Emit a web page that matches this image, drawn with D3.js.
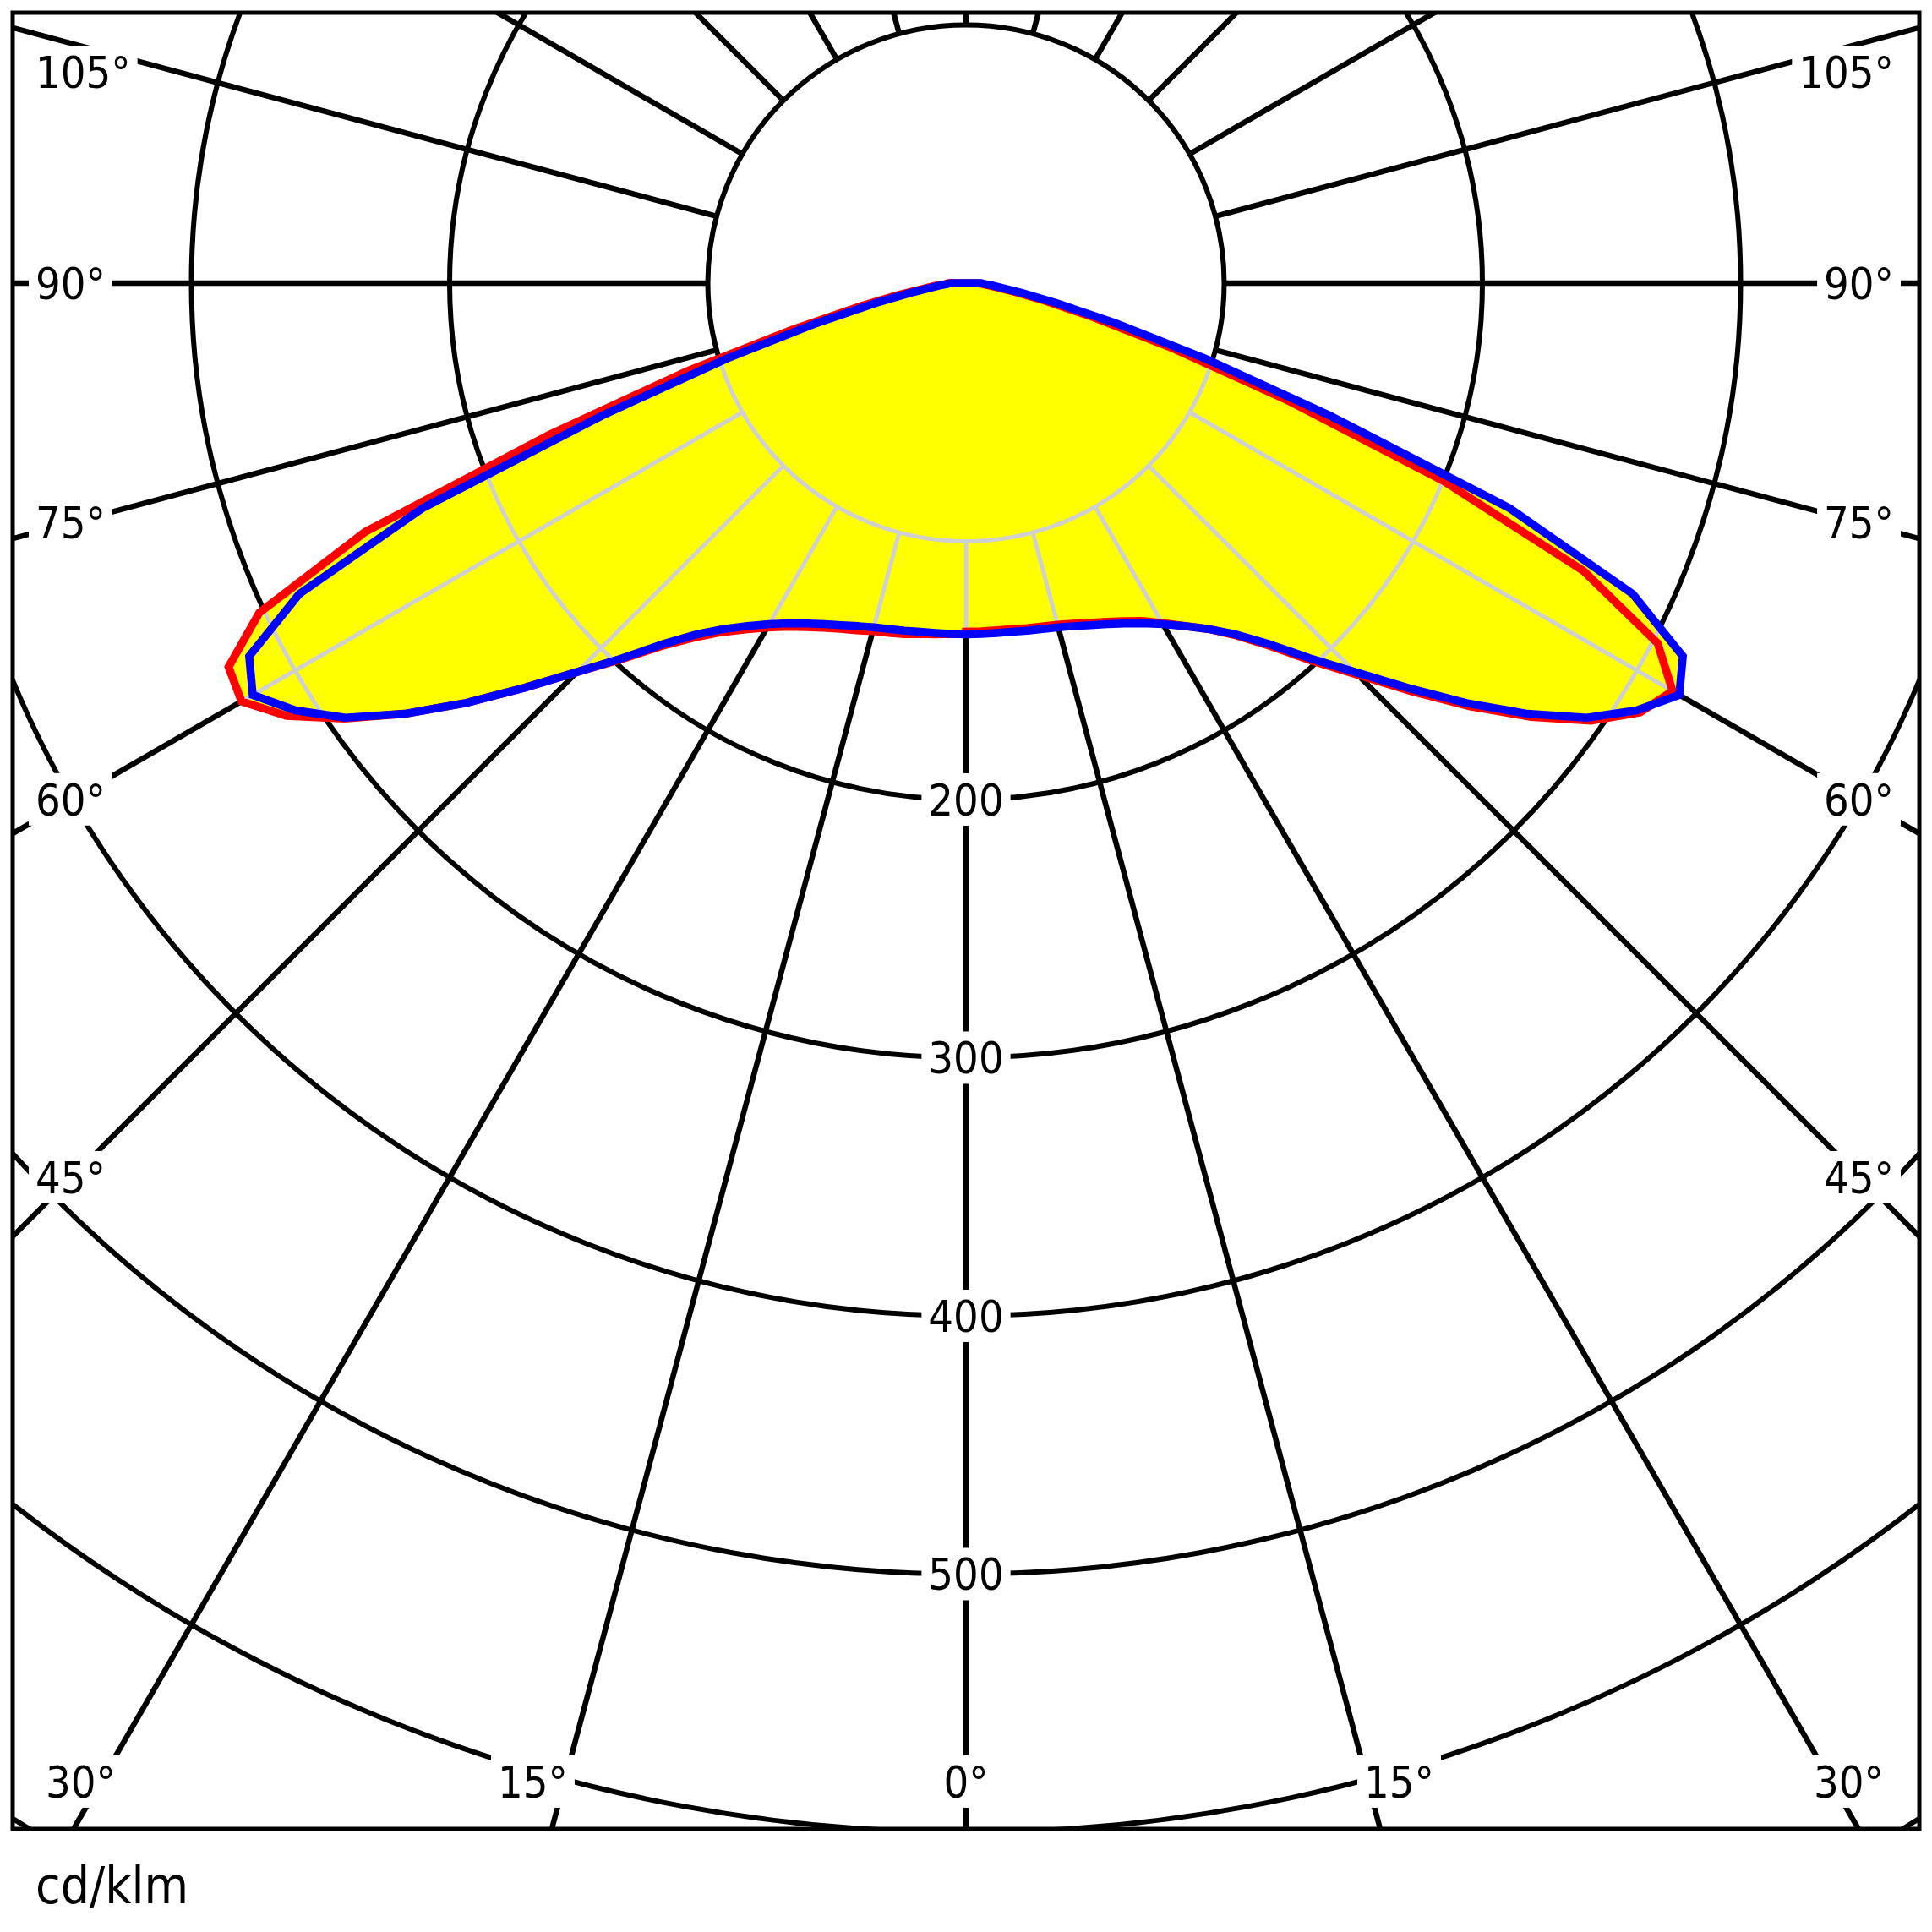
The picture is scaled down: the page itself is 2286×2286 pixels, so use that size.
<!DOCTYPE html>
<html><head><meta charset="utf-8">
<script src="https://cdn.jsdelivr.net/npm/d3@7"></script>
<style>
body{margin:0;background:#fff}
text{font-family:"DejaVu Sans Condensed","DejaVu Sans",sans-serif;font-stretch:condensed;fill:#000}
</style>
</head><body>
<svg id="c" width="2286" height="2286"></svg>
<script>
// ---------- data ----------
const gammaAngles = [0,2.5,5,7.5,10,12.5,15,17.5,20,22.5,25,27.5,30,32.5,35,37.5,40,42.5,45,47.5,50,52.5,55,57.5,60,62.5,65,67.5,70,72.5,75,77.5,80,82.5,85,87.5,90];
// C90 / C270 plane (blue), cd/klm
const blueC90  = [136,136,136,136.2,136.7,137.2,138,139.3,141,143,145.5,148.5,152.5,157.5,163.5,171.5,182.5,197,213,232,253,274,293.5,308,319,313,285,228,150,97,60,36,22,14,10,7,6];
const blueC270 = [136,136,136,136.2,136.7,137.2,138,139.3,141,143,145.5,148.5,152.5,157.5,163.5,171.5,182.5,197,213,232,253,274,293.5,308,319,313,285,228,150,97,60,36,22,14,10,7,6];
// C0 / C180 plane (red), cd/klm
const redC0    = [135,135,135,135.2,135.7,136.2,137,138.3,140,142,144.5,147.5,152,157.5,163.5,172,183.5,198.5,214.5,234,255,276,295.5,309.5,316,302,264,200,132,84,51,31,19,12,8,6,5];
const redC180  = [136,136,136.5,137,138,138.7,139.5,141,142.5,144.5,147,150,154,159,165,173,183.5,197.5,213,232,253,274,294,312,324,322,302,252,172,113,70,43,27,17,12,8,7];
const radiusTicks = [100,200,300,400,500,600,700];
const radiusLabels = [200,300,400,500];
const gridAngles = d3.range(0,360,15);
const bottomAngleLabels = [-30,-15,0,15,30];
const sideAngleLabels = [45,60,75,90,105];
const unitLabel = "cd/klm";

// ---------- layout ----------
const cx = 1143, cy = 335;
const frame = {x0:15, y0:15, x1:2271, y1:2164};
const rScale = d3.scaleLinear().domain([0,100]).range([0,305.5]);
const FS = 52;

const svg = d3.select("#c");
const defs = svg.append("defs");
defs.append("clipPath").attr("id","frameClip").append("rect")
  .attr("x",frame.x0).attr("y",frame.y0)
  .attr("width",frame.x1-frame.x0).attr("height",frame.y1-frame.y0);

function pt(thetaDeg, val){
  const t = thetaDeg*Math.PI/180;
  return [cx + rScale(val)*Math.sin(t), cy + rScale(val)*Math.cos(t)];
}
function curvePoints(left, right){
  const pts = [];
  for(let i=gammaAngles.length-1;i>=0;i--) pts.push(pt(-gammaAngles[i], left[i]));
  for(let i=0;i<gammaAngles.length;i++) pts.push(pt(gammaAngles[i], right[i]));
  return pts;
}
const lineGen = d3.line().curve(d3.curveLinearClosed);
const redPath = lineGen(curvePoints(redC180, redC0));
const bluePath = lineGen(curvePoints(blueC270, blueC90));

const fc = defs.append("clipPath").attr("id","fillClip");
fc.append("path").attr("d",redPath);
fc.append("path").attr("d",bluePath);

function drawGrid(g, color, rw, cw){
  g.selectAll("circle").data(radiusTicks).join("circle")
    .attr("cx",cx).attr("cy",cy).attr("r",d=>rScale(d))
    .attr("fill","none").attr("stroke",color).attr("stroke-width",cw);
  g.selectAll("line").data(gridAngles).join("line")
    .attr("x1",d=>pt(d,100)[0]).attr("y1",d=>pt(d,100)[1])
    .attr("x2",d=>pt(d,900)[0]).attr("y2",d=>pt(d,900)[1])
    .attr("stroke",color).attr("stroke-width",rw);
}

const plot = svg.append("g").attr("clip-path","url(#frameClip)");
drawGrid(plot.append("g"), "#000", 6.5, 6);

// fill
plot.append("path").attr("d",redPath).attr("fill","#ffff00");
plot.append("path").attr("d",bluePath).attr("fill","#ffff00");
// grey grid inside fill
drawGrid(plot.append("g").attr("clip-path","url(#fillClip)"), "#d0d0d0", 5, 5);

// labels with white background
const labelsG = plot.append("g");
function label(txt, x, yc, anchor){
  const g = labelsG.append("g");
  const base = yc + 0.729*FS/2;
  const t = g.append("text").attr("x",x).attr("y",base)
    .attr("text-anchor",anchor).attr("font-size",FS).text(txt);
  const b = t.node().getBBox();
  g.insert("rect","text").attr("x",b.x-8).attr("y",base-50)
    .attr("width",b.width+16).attr("height",62).attr("fill","#fff");
  return {g,t,b};
}
radiusLabels.forEach(v=>{
  label(String(v), cx, cy + rScale(v), "middle");
});
sideAngleLabels.forEach(a=>{
  const t = a*Math.PI/180;
  const dxL = cx - 85;
  let yc = Math.abs(a-90)<1e-6 ? cy : cy + dxL/Math.tan(t);
  yc = Math.max(yc, 85);
  label(a+"°", 42, yc, "start");
  label(a+"°", 2241, yc, "end");
});
bottomAngleLabels.forEach(a=>{
  const yc = 2108;
  const xl = cx + (yc-cy)*Math.tan(a*Math.PI/180);
  const o = label(Math.abs(a)+"°", xl, yc, "middle");
  const w = o.b.width;
  let c = xl;
  if(a<0){ c = xl + 4 - w/2; c = Math.max(c, 54 + w/2); }
  if(a>0){ c = xl - 4 + w/2; c = Math.min(c, 2229 - w/2); }
  o.g.attr("transform",`translate(${c - xl},0)`);
});

// curves
plot.append("path").attr("d",redPath).attr("fill","none")
  .attr("stroke","#ff0000").attr("stroke-width",9.5);
plot.append("path").attr("d",bluePath).attr("fill","none")
  .attr("stroke","#0000ff").attr("stroke-width",9.5);

// frame
svg.append("rect").attr("x",frame.x0).attr("y",frame.y0)
  .attr("width",frame.x1-frame.x0).attr("height",frame.y1-frame.y0)
  .attr("fill","none").attr("stroke","#000").attr("stroke-width",5);

svg.append("text").attr("x",42).attr("y",2252).attr("font-size",60).text(unitLabel);
</script>
</body></html>
